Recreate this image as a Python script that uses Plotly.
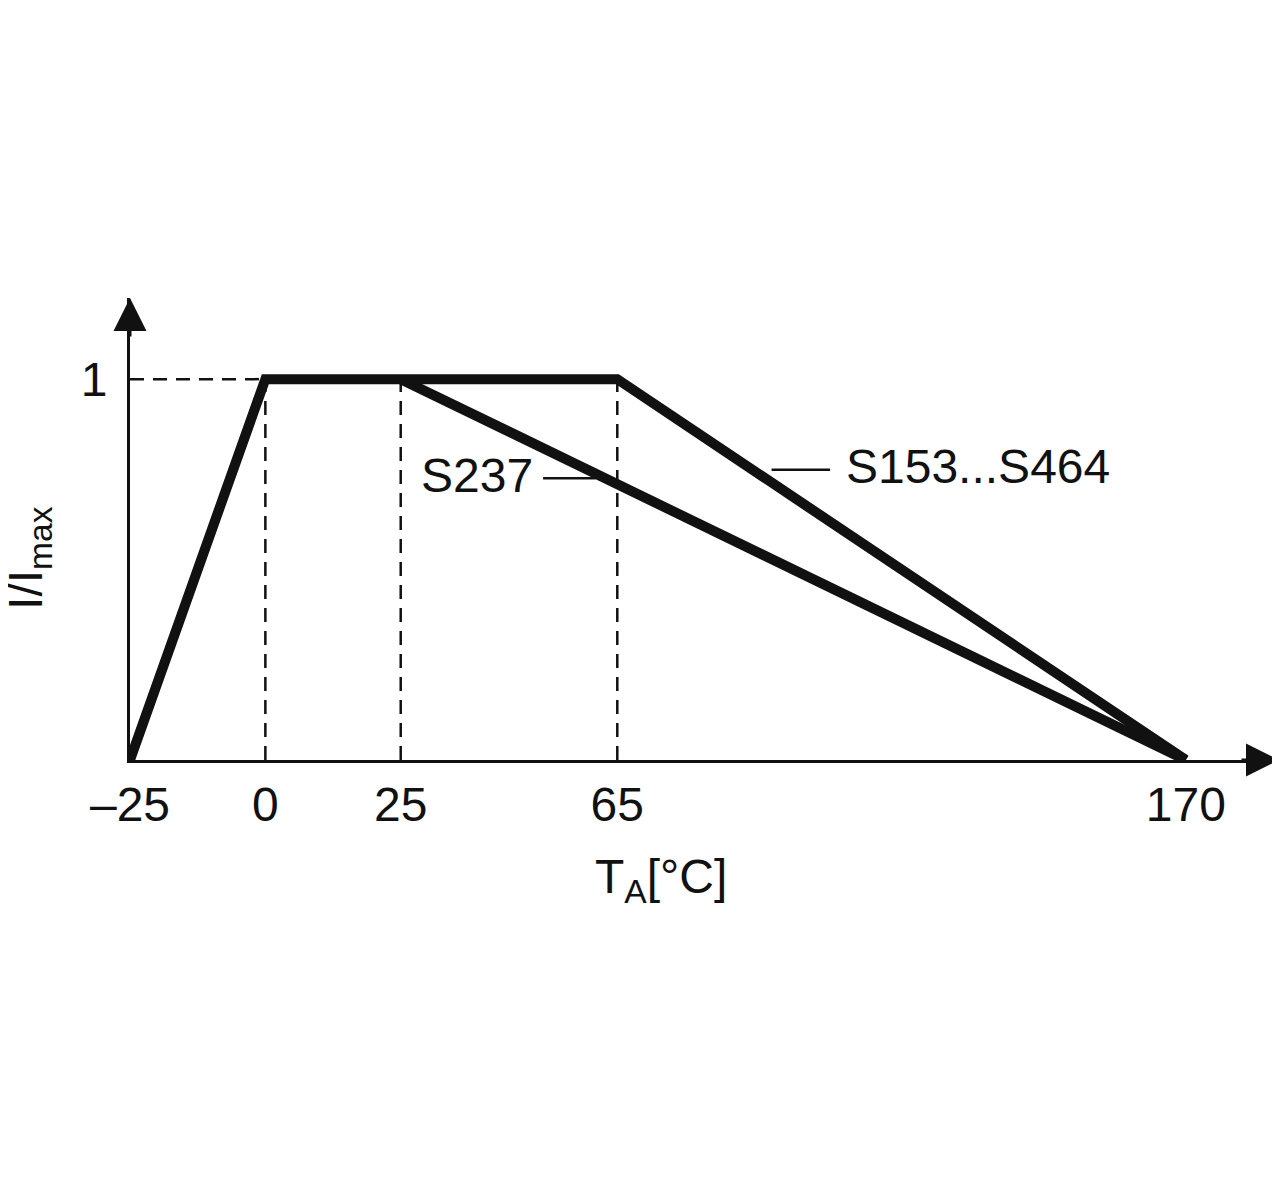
import plotly.graph_objects as go

# derating curves, I/Imax vs ambient temperature
temp_s153 = [-25, 0, 65, 170]
ratio_s153 = [0, 1, 1, 0]
temp_s237 = [25, 170]
ratio_s237 = [1, 0]
guide_temps = [0, 25, 65]
x_ticks = [-25, 0, 25, 65, 170]
x_tick_text = ["–25", "0", "25", "65", "170"]
y_ticks = [1]
y_tick_text = ["1"]

FONT = "Liberation Sans, Arial, Helvetica, sans-serif"
INK = "#111111"

fig = go.Figure()

# dashed helper lines (horizontal at 1, verticals at breakpoints)
top = max(ratio_s153)
gx, gy = [temp_s153[0], guide_temps[0], None], [top, top, None]
for t in guide_temps:
    gx += [t, t, None]
    gy += [0, top, None]

fig.add_trace(go.Scatter(
    x=gx, y=gy, mode="lines",
    line=dict(color=INK, width=2.5, dash="14px,9px"),
    hoverinfo="skip", showlegend=False
))

fig.add_trace(go.Scatter(
    x=temp_s237, y=ratio_s237, mode="lines", name="S237",
    line=dict(color=INK, width=10), showlegend=False
))
fig.add_trace(go.Scatter(
    x=temp_s153, y=ratio_s153, mode="lines", name="S153...S464",
    line=dict(color=INK, width=10), showlegend=False
))

axis_common = dict(
    showgrid=False, zeroline=False, showline=True,
    linecolor=INK, linewidth=3, ticks="",
    tickfont=dict(family=FONT, size=48, color=INK),
)

# page body has an 8px margin, so the figure is 8px smaller than the window
fig.update_layout(
    width=1272, height=1182,
    paper_bgcolor="white", plot_bgcolor="white",
    margin=dict(l=122, r=0, t=290, b=430),
    font=dict(family=FONT, size=48, color=INK),
    xaxis=dict(range=[-25, 187.4], tickvals=x_ticks, ticktext=x_tick_text,
               ticklabelstandoff=0, **axis_common),
    yaxis=dict(range=[0, 1.213], tickvals=y_ticks, ticktext=y_tick_text,
               ticklabelstandoff=10, **axis_common),
    showlegend=False,
)

# axis arrowheads
fig.add_annotation(x=1, y=0, xref="paper", yref="paper", ax=-40, ay=0,
                   text="", showarrow=True, arrowhead=2, arrowsize=2.2,
                   arrowwidth=3, arrowcolor=INK)
fig.add_annotation(x=0, y=1, xref="paper", yref="paper", ax=0, ay=40,
                   text="", showarrow=True, arrowhead=2, arrowsize=2.2,
                   arrowwidth=3, arrowcolor=INK)

# axis titles
fig.add_annotation(x=73, y=-0.26, xref="x", yref="paper",
                   text="T<sub>A</sub>[°C]", showarrow=False,
                   xanchor="center", yanchor="middle",
                   font=dict(family=FONT, size=48, color=INK))
fig.add_annotation(x=-0.088, y=0.53, xref="paper", yref="y",
                   text="I/I<sub>max</sub>", showarrow=False, textangle=-90,
                   xanchor="center", yanchor="middle",
                   font=dict(family=FONT, size=48, color=INK))

# curve labels with leader lines
fig.add_annotation(x=39.1, y=0.748, text="S237", showarrow=False,
                   xanchor="center", yanchor="middle",
                   font=dict(family=FONT, size=48, color=INK))
fig.add_shape(type="line", x0=51.3, x1=61, y0=0.74, y1=0.74,
              line=dict(color=INK, width=2.5))
fig.add_annotation(x=131.7, y=0.77, text="S153...S464", showarrow=False,
                   xanchor="center", yanchor="middle",
                   font=dict(family=FONT, size=48, color=INK))
fig.add_shape(type="line", x0=93.5, x1=104.3, y0=0.762, y1=0.762,
              line=dict(color=INK, width=2.5))

fig.write_html("out.html")
